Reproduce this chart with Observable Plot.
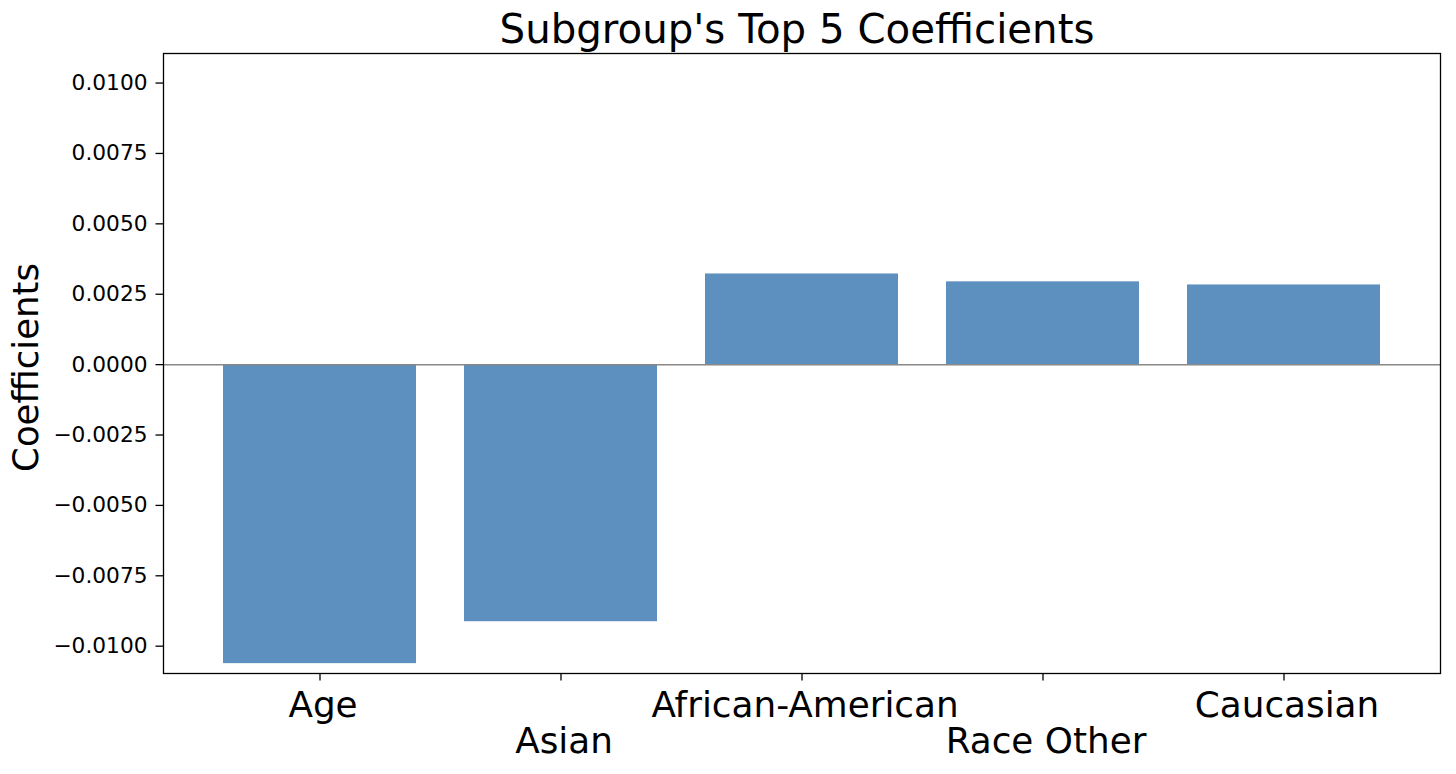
<!DOCTYPE html>
<html>
<head>
<meta charset="utf-8">
<script src="https://cdn.jsdelivr.net/npm/d3@7"></script>
<script src="https://cdn.jsdelivr.net/npm/@observablehq/plot@0.6"></script>
<style>
  html, body { margin: 0; padding: 0; background: white; }
  #chart svg { display: block; }
</style>
</head>
<body>
<div id="chart"></div>
<script>
const categories = ["Age", "Asian", "African-American", "Race Other", "Caucasian"];
const coefficients = [-0.01062, -0.00913, 0.00322, 0.00294, 0.00283];
const yTicks = [-0.01, -0.0075, -0.005, -0.0025, 0, 0.0025, 0.005, 0.0075, 0.01];
const titleText = "Subgroup's Top 5 Coefficients";
const yLabel = "Coefficients";

const data = categories.map((name, i) => ({name, value: coefficients[i], row: i % 2}));

const chart = Plot.plot({
  width: 1456,
  height: 774,
  marginLeft: 163,
  marginRight: 16,
  marginTop: 53,
  marginBottom: 101,
  style: {fontFamily: "DejaVu Sans", background: "white", color: "black"},
  x: {domain: categories, paddingInner: 0.2, paddingOuter: 0.24, axis: null},
  y: {domain: [-0.01097, 0.01105], axis: null},
  marks: [
    Plot.barY(data, {x: "name", y: "value", fill: "#5d8fbf"}),
    Plot.ruleY([0], {stroke: "#888888", strokeWidth: 1.5}),
    Plot.frame({stroke: "black", strokeWidth: 1.3}),
    Plot.axisY({ticks: yTicks, tickSize: 7.5, tickPadding: 8.5, tickFormat: d3.format(".4f"), fontSize: 21.7, label: null, strokeWidth: 1.3}),
    Plot.axisX({tickSize: 7.5, tickFormat: () => "", label: null, strokeWidth: 1.3}),
    Plot.text(data.filter(d => d.row === 0), {x: "name", text: "name", frameAnchor: "bottom", dx: 3, dy: 32, lineAnchor: "middle", fontSize: 35.8, fill: "black"}),
    Plot.text(data.filter(d => d.row === 1), {x: "name", text: "name", frameAnchor: "bottom", dx: 3, dy: 68, lineAnchor: "middle", fontSize: 35.8, fill: "black"}),
    Plot.text([yLabel], {frameAnchor: "left", dx: -137, dy: 4, rotate: -90, textAnchor: "middle", lineAnchor: "middle", fontSize: 35.5, fill: "black"}),
    Plot.text([titleText], {frameAnchor: "top", dx: -5, dy: -23, lineAnchor: "middle", fontSize: 40.3, fill: "black"})
  ]
});
document.getElementById("chart").append(chart);
</script>
</body>
</html>
